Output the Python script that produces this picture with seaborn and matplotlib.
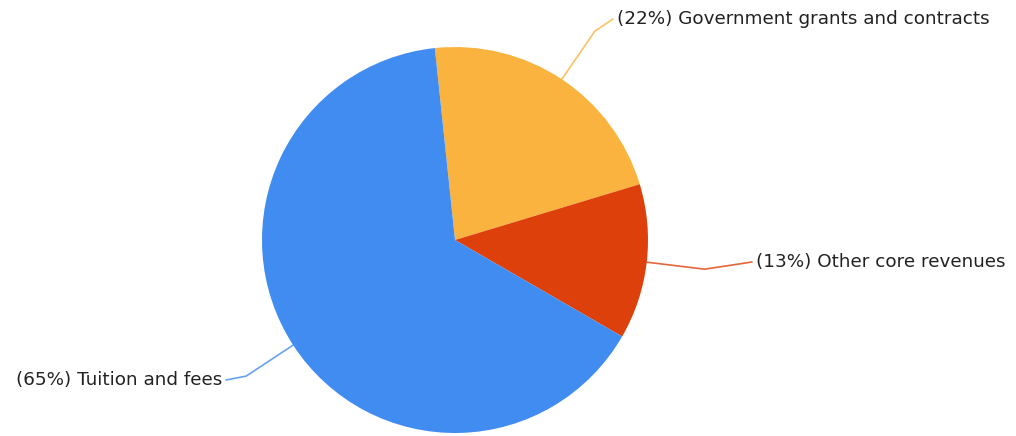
import numpy as np
import matplotlib
matplotlib.use('Agg')
import matplotlib.pyplot as plt
import seaborn as sns

# data
labels = ['Government grants and contracts', 'Other core revenues', 'Tuition and fees']
shares = [22, 13, 65]
colors = ['#FBB33F', '#DD400B', '#418CF0']

sns.set_theme(style='white')
plt.rcParams['font.family'] = ['DejaVu Sans']

fig = plt.figure(figsize=(10.16, 4.36), dpi=100)
ax = fig.add_axes([0, 0, 1, 1])

cx, cy, r = 455, 196, 193
wedges, _ = ax.pie(shares, colors=colors, startangle=96, counterclock=False,
                   center=(cx, cy), radius=r, frame=True,
                   wedgeprops={'linewidth': 0})
ax.set_xlim(0, 1016)
ax.set_ylim(0, 436)
ax.set_aspect('equal')
ax.axis('off')

# leader lines: elbow offset from edge point, text position, alignment
elbows = [(33, 48), (58, -7), (-47, -31)]
text_pos = [(617, 417), (756, 174), (222, 56)]
aligns = ['left', 'left', 'right']

for w, pct, lab, col, (ex, ey), (tx, ty), ha in zip(wedges, shares, labels, colors,
                                                    elbows, text_pos, aligns):
    mid = np.deg2rad((w.theta1 + w.theta2) / 2)
    px, py = cx + r * np.cos(mid), cy + r * np.sin(mid)
    end_x = tx - 4 if ha == 'left' else tx + 4
    ax.plot([px, px + ex, end_x], [py, py + ey, ty], color=col, lw=1.2,
            solid_joinstyle='round', alpha=0.8)
    ax.text(tx, ty, f'({pct}%) {lab}', ha=ha, va='center', fontsize=13.2,
            color='#222222')

plt.savefig('out.png', dpi=100)
plt.close()
